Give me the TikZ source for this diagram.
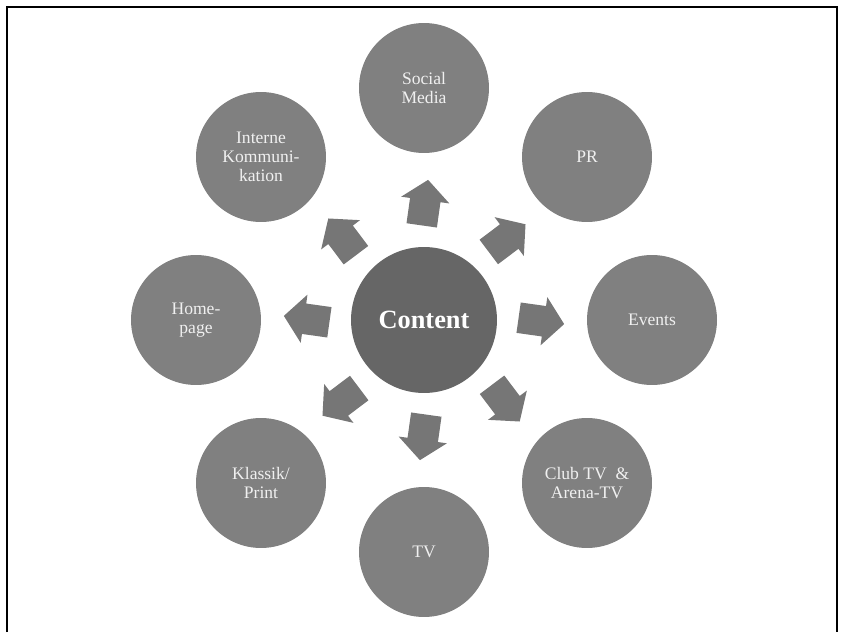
\documentclass[tikz,border=0pt]{standalone}
\usepackage{fontspec}
\setmainfont{Liberation Serif}
\usetikzlibrary{shapes.arrows}

\definecolor{ringgray}{RGB}{128,128,128}
\definecolor{coregray}{RGB}{102,102,102}
\definecolor{pushgray}{RGB}{118,118,118}
\definecolor{labelgray}{RGB}{240,240,240}

\begin{document}
\begin{tikzpicture}[x=0.02cm, y=0.02cm,
        topic/.style={circle, fill=ringgray, text=labelgray, minimum size=2.6cm,
            inner sep=0pt, align=center, font=\fontsize{10}{11}\selectfont},
        push/.style={single arrow, fill=pushgray, inner sep=0.3cm, minimum height=0.92cm,
            single arrow head extend=0.18cm, single arrow tip angle=100}]
        \useasboundingbox (0,0) rectangle (844,632);
        \draw[line width=1.1pt] (7,0) -- (7,625) -- (837,625) -- (837,0);

        % middle
        \node[circle, fill=coregray, text=white, minimum size=2.92cm, inner sep=0pt,
            font=\fontsize{15}{18}\selectfont\bfseries] (content) at (424,312) {Content};

        % ring
        \node[topic] (social) at (424,544) {Social\\Media};
        \node[topic] (pr) at (587,475) {PR};
        \node[topic] (events) at (652,312) {Events};
        \node[topic] (club) at (587,149) {Club TV \ \&\\Arena-TV};
        \node[topic] (tv) at (424,80) {TV};
        \node[topic] (klassik) at (261,149) {Klassik/\\Print};
        \node[topic] (home) at (196,312) {Home-\\page};
        \node[topic] (interne) at (261,475) {Interne\\Kommuni-\\kation};

        % arrows
        \node[push, rotate=82] (to-social) at (424,423) {};
        \node[push, rotate=37] (to-pr) at (502,390) {};
        \node[push, rotate=-8] (to-events) at (535,312) {};
        \node[push, rotate=-53] (to-club) at (502,234) {};
        \node[push, rotate=-98] (to-tv) at (424,201) {};
        \node[push, rotate=-143] (to-klassik) at (346,234) {};
        \node[push, rotate=172] (to-home) at (313,312) {};
        \node[push, rotate=127] (to-interne) at (346,390) {};
    \end{tikzpicture}
\end{document}
